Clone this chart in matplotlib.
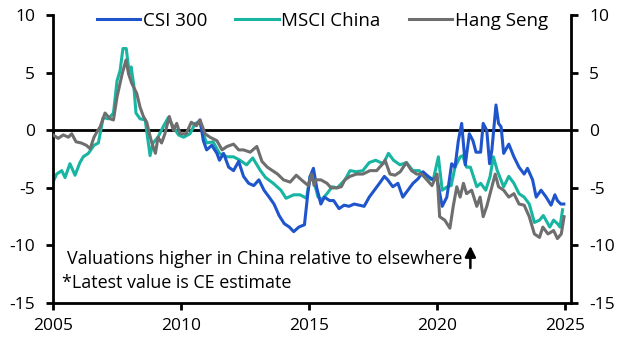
import matplotlib
matplotlib.use("Agg")
import matplotlib.pyplot as plt

plt.rcParams['font.family'] = ['Open Sans', 'DejaVu Sans']
plt.rcParams['axes.unicode_minus'] = False

# decimal years and values
msci_x = [2005.0, 2005.14, 2005.34, 2005.47, 2005.66, 2005.86, 2006.05, 2006.18, 2006.38, 2006.6,
          2006.77, 2006.96, 2007.16, 2007.36, 2007.5, 2007.62, 2007.73, 2007.86, 2007.98, 2008.05,
          2008.15, 2008.24, 2008.4, 2008.6, 2008.79, 2008.9, 2009.1, 2009.3, 2009.5, 2009.7,
          2009.9, 2010.1, 2010.35, 2010.55, 2010.74, 2010.87, 2011.0, 2011.25, 2011.5, 2011.8,
          2012.05, 2012.3, 2012.56, 2012.8, 2013.1, 2013.3, 2013.6, 2013.9, 2014.1, 2014.4,
          2014.65, 2014.9, 2015.04, 2015.2, 2015.35, 2015.5, 2015.7, 2015.9, 2016.1, 2016.4,
          2016.6, 2016.85, 2017.1, 2017.35, 2017.6, 2017.9, 2018.1, 2018.3, 2018.55, 2018.8,
          2019.05, 2019.3, 2019.6, 2019.85, 2020.05, 2020.2, 2020.4, 2020.55, 2020.7, 2020.9,
          2021.0, 2021.15, 2021.3, 2021.55, 2021.7, 2021.9, 2022.07, 2022.2, 2022.35, 2022.6,
          2022.8, 2023.0, 2023.2, 2023.4, 2023.6, 2023.8, 2024.0, 2024.15, 2024.4, 2024.55,
          2024.7, 2024.8, 2024.9]
msci_y = [-4.5, -3.8, -3.5, -4.1, -2.9, -3.9, -2.8, -2.3, -2.0, -1.3,
          -1.1, 1.1, 1.0, 1.5, 4.3, 5.2, 7.1, 7.1, 4.9, 5.5,
          4.0, 1.5, 1.0, 0.9, -2.2, -1.1, -0.6, 0.3, 1.1, 0.3,
          -0.4, -0.6, -0.3, 0.6, 0.7, -0.3, -1.1, -1.0, -2.0, -2.3,
          -2.3, -2.6, -3.0, -2.4, -3.5, -4.1, -4.6, -5.2, -5.9, -5.6,
          -5.6, -5.9, -4.0, -4.5, -5.8, -6.0, -5.5, -4.9, -5.0, -4.3,
          -3.5, -3.6, -3.5, -2.8, -2.6, -2.9, -2.0, -2.6, -3.0, -2.8,
          -3.5, -3.5, -4.2, -4.3, -2.3, -5.2, -4.9, -4.8, -3.2, -2.3,
          -2.2, -3.2, -3.2, -4.9, -4.6, -5.2, -4.0, -2.3, -3.5, -4.9,
          -4.0, -4.6, -5.5, -5.8, -6.4, -8.0, -7.8, -7.4, -8.4, -7.8,
          -8.1, -8.4, -6.9]

hs_x = [2005.0, 2005.2, 2005.4, 2005.6, 2005.73, 2005.9, 2006.1, 2006.3, 2006.45, 2006.6,
        2006.7, 2006.84, 2007.03, 2007.23, 2007.36, 2007.5, 2007.7, 2007.85, 2007.95, 2008.07,
        2008.27, 2008.4, 2008.53, 2008.66, 2008.8, 2008.86, 2009.0, 2009.1, 2009.24, 2009.37,
        2009.54, 2009.7, 2009.83, 2009.96, 2010.2, 2010.4, 2010.6, 2010.74, 2010.94, 2011.13,
        2011.4, 2011.6, 2011.8, 2012.05, 2012.25, 2012.44, 2012.7, 2012.96, 2013.16, 2013.37,
        2013.57, 2013.77, 2014.0, 2014.26, 2014.5, 2014.7, 2014.97, 2015.1, 2015.2, 2015.26,
        2015.46, 2015.7, 2015.86, 2016.07, 2016.26, 2016.4, 2016.6, 2016.85, 2017.1, 2017.38,
        2017.64, 2017.84, 2017.97, 2018.16, 2018.36, 2018.56, 2018.8, 2019.0, 2019.2, 2019.4,
        2019.6, 2019.8, 2020.0, 2020.1, 2020.3, 2020.5, 2020.63, 2020.77, 2020.9, 2021.03,
        2021.15, 2021.35, 2021.55, 2021.68, 2021.8, 2021.94, 2022.07, 2022.27, 2022.4, 2022.6,
        2022.8, 2023.0, 2023.2, 2023.4, 2023.6, 2023.8, 2024.0, 2024.13, 2024.33, 2024.55,
        2024.7, 2024.85, 2024.96]
hs_y = [-0.4, -0.7, -0.4, -0.6, -0.3, -1.0, -1.1, -1.3, -1.6, -0.6,
        -0.2, 0.3, 1.5, 1.0, 0.9, 2.9, 4.9, 6.1, 4.9, 4.1,
        3.2, 2.0, 1.2, 0.7, -0.6, -1.1, -2.0, -0.6, -1.1, -0.3,
        1.2, 0.0, 0.6, -0.3, -0.3, 0.7, 0.4, 0.9, -0.3, -0.6,
        -0.9, -1.7, -1.4, -1.2, -1.7, -1.7, -1.9, -1.4, -2.7, -3.2,
        -3.5, -3.8, -4.3, -4.5, -3.9, -4.3, -4.8, -3.8, -4.8, -4.3,
        -4.3, -4.6, -5.0, -5.0, -4.9, -4.3, -4.0, -3.8, -3.8, -3.5,
        -3.5, -3.0, -2.6, -3.8, -3.9, -3.6, -2.8, -3.5, -3.8, -3.8,
        -4.3, -4.8, -3.8, -7.5, -7.8, -8.5, -6.6, -4.9, -5.8, -4.6,
        -5.5, -5.2, -6.6, -5.8, -7.5, -6.6, -5.5, -3.8, -4.9, -5.2,
        -5.8, -5.5, -6.4, -6.5, -7.5, -9.0, -9.3, -8.4, -9.0, -8.7,
        -9.4, -9.0, -7.5]

csi_x = [2010.6, 2010.74, 2010.87, 2011.0, 2011.2, 2011.4, 2011.5, 2011.66, 2011.86, 2012.05,
         2012.25, 2012.44, 2012.64, 2012.84, 2013.04, 2013.24, 2013.44, 2013.63, 2013.83, 2014.03,
         2014.23, 2014.4, 2014.6, 2014.82, 2014.95, 2015.04, 2015.17, 2015.3, 2015.46, 2015.6,
         2015.8, 2015.96, 2016.17, 2016.37, 2016.56, 2016.76, 2016.96, 2017.15, 2017.35, 2017.55,
         2017.75, 2017.94, 2018.07, 2018.27, 2018.47, 2018.66, 2018.86, 2019.06, 2019.26, 2019.45,
         2019.65, 2019.85, 2019.98, 2020.2, 2020.38, 2020.57, 2020.7, 2020.83, 2020.96, 2021.1,
         2021.26, 2021.4, 2021.52, 2021.7, 2021.8, 2021.94, 2022.05, 2022.14, 2022.3, 2022.4,
         2022.5, 2022.6, 2022.8, 2023.0, 2023.2, 2023.4, 2023.53, 2023.73, 2023.87, 2024.06,
         2024.26, 2024.45, 2024.6, 2024.7, 2024.83, 2024.95]
csi_y = [0.5, 0.9, -0.9, -1.7, -1.3, -2.0, -2.6, -2.0, -3.2, -3.5,
         -2.7, -4.0, -4.6, -4.8, -4.3, -5.2, -5.8, -6.4, -7.4, -8.1,
         -8.4, -8.8, -8.4, -8.2, -5.5, -4.0, -3.3, -5.0, -6.4, -5.8,
         -6.1, -6.1, -6.8, -6.5, -6.6, -6.4, -6.5, -6.6, -5.8, -5.2,
         -4.6, -4.0, -4.3, -4.9, -4.6, -5.8, -5.2, -4.6, -4.2, -3.6,
         -4.0, -4.3, -4.0, -6.6, -5.8, -2.9, -3.2, -0.9, 0.6, -3.0,
         -0.3, -0.9, -1.9, -1.9, 0.6, 0.0, -2.9, -1.7, 2.2, 0.6,
         0.3, -2.0, -1.2, -2.3, -3.2, -3.8, -3.3, -4.3, -5.8, -5.2,
         -5.8, -6.5, -5.6, -6.1, -6.4, -6.4]

blue = '#1f55cc'
teal = '#17b5a2'
grey = '#6e6e6e'

fig = plt.figure(figsize=(6.29, 3.52), dpi=100)
ax = fig.add_axes([0.0843, 0.139, 0.8235, 0.818])

ax.axhline(0, color='black', lw=2, zorder=1)
l2, = ax.plot(msci_x, msci_y, color=teal, lw=2.2, label='MSCI China', zorder=2)
l1, = ax.plot(csi_x, csi_y, color=blue, lw=2.2, label='CSI 300', zorder=3)
l3, = ax.plot(hs_x, hs_y, color=grey, lw=2.2, label='Hang Seng', zorder=4)

ax.set_xlim(2005, 2025.23)
ax.set_ylim(-15, 10)
ax.set_xticks([2005, 2010, 2015, 2020, 2025])
ax.set_yticks([-15, -10, -5, 0, 5, 10])

ax.spines['top'].set_visible(False)
for s in ['left', 'right', 'bottom']:
    ax.spines[s].set_linewidth(2)
ax.tick_params(axis='both', direction='out', width=2, length=5, labelsize=12.5)
ax.tick_params(axis='y', right=True, labelright=True, pad=8)
ax.tick_params(axis='x', pad=6)

ax.legend(handles=[l1, l2, l3], loc='upper center', bbox_to_anchor=(0.52, 1.07), ncol=3,
          frameon=False, fontsize=13.5, handlelength=2.3, handletextpad=0.15, columnspacing=1.5)

ax.text(2005.55, -11.2, 'Valuations higher in China relative to elsewhere', fontsize=12.9, va='center')
ax.text(2005.35, -13.3, '*Latest value is CE estimate', fontsize=12.9, va='center')
ax.annotate('', xy=(2021.3, -9.8), xytext=(2021.3, -12.2),
            arrowprops=dict(arrowstyle='-|>', color='black', lw=1.8, mutation_scale=16))

fig.savefig('out.png', dpi=100)
